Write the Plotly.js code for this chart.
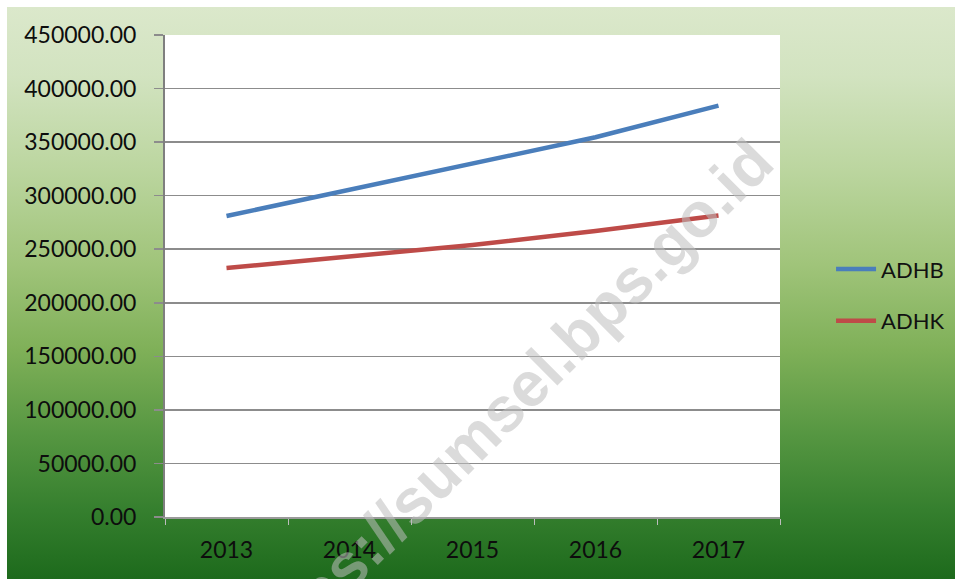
<!DOCTYPE html>
<html>
<head>
<meta charset="utf-8">
<script src="https://cdn.plot.ly/plotly-3.0.1.min.js"></script>
<style>
  html, body { margin: 0; padding: 0; background: #ffffff; }
  #wrap { position: relative; width: 957px; height: 579px; background: #ffffff; overflow: hidden; }
  #bg { position: absolute; left: 7px; top: 7px; width: 948px; height: 572px;
        background: linear-gradient(to bottom, #dbe8cb 0%, #d2e3c0 12%, #bcd6a0 28%, #a0c47a 45%, #7fb058 60%, #559641 75%, #357f2e 88%, #1d6a1c 100%); }
  #chart { position: absolute; left: 0; top: 0; width: 957px; height: 579px; }
</style>
</head>
<body>
<div id="wrap">
  <div id="bg"></div>
  <div id="chart"></div>
</div>
<script>
var years = ["2013", "2014", "2015", "2016", "2017"];
var adhb = [281000, 305500, 329000, 354500, 384000];
var adhk = [232500, 243000, 254000, 267000, 281500];
var yTicks = [0, 50000, 100000, 150000, 200000, 250000, 300000, 350000, 400000, 450000];

var traces = [
  { x: years, y: adhb, type: "scatter", mode: "lines", name: "ADHB", legendgroup: "a",
    line: { color: "#4a7ebb", width: 4.5 } },
  { x: years, y: adhk, type: "scatter", mode: "lines", name: "ADHK", legendgroup: "b",
    line: { color: "#be4b48", width: 4.5 } }
];

var layout = {
  width: 957, height: 579,
  margin: { l: 165, r: 177, t: 35, b: 62, autoexpand: false },
  paper_bgcolor: "rgba(0,0,0,0)",
  plot_bgcolor: "#ffffff",
  font: { family: "Lato, 'Open Sans', sans-serif", color: "#111111" },
  xaxis: {
    type: "category",
    range: [-0.5, 4.5],
    tickson: "boundaries",
    ticks: "outside", ticklen: 6, tickcolor: "#bdbdbd", tickwidth: 1,
    showline: true, linecolor: "#9a9a9a", linewidth: 2,
    showgrid: false,
    tickfont: { size: 23, color: "#0d0d0d" },
    ticklabelstandoff: 11,
    automargin: false,
    fixedrange: true
  },
  yaxis: {
    range: [0, 450000],
    tickvals: yTicks,
    tickformat: ".2f",
    ticks: "outside", ticklen: 9, tickcolor: "#8c8c8c", tickwidth: 1.5,
    showline: true, linecolor: "#7f7f7f", linewidth: 2,
    showgrid: true, gridcolor: "#8c8c8c", gridwidth: 1.5,
    zeroline: false,
    tickfont: { size: 23, color: "#0d0d0d" },
    ticklabelstandoff: 13,
    automargin: false,
    fixedrange: true
  },
  showlegend: true,
  legend: {
    x: 1.083, y: 0.46, xanchor: "left", yanchor: "middle",
    bgcolor: "rgba(0,0,0,0)",
    font: { size: 22, color: "#111111" },
    tracegroupgap: 20,
    itemwidth: 40
  },
  annotations: [{
    text: "<b>https://sumsel.bps.go.id</b>",
    xref: "paper", yref: "paper",
    x: 0.554, y: 0.23, xanchor: "center", yanchor: "middle",
    textangle: -45,
    showarrow: false,
    font: { family: "'Liberation Sans', Arial, sans-serif", size: 63, color: "rgba(190,190,190,0.55)" }
  }]
};

Plotly.newPlot("chart", traces, layout, { displayModeBar: false, staticPlot: true });
</script>
</body>
</html>
